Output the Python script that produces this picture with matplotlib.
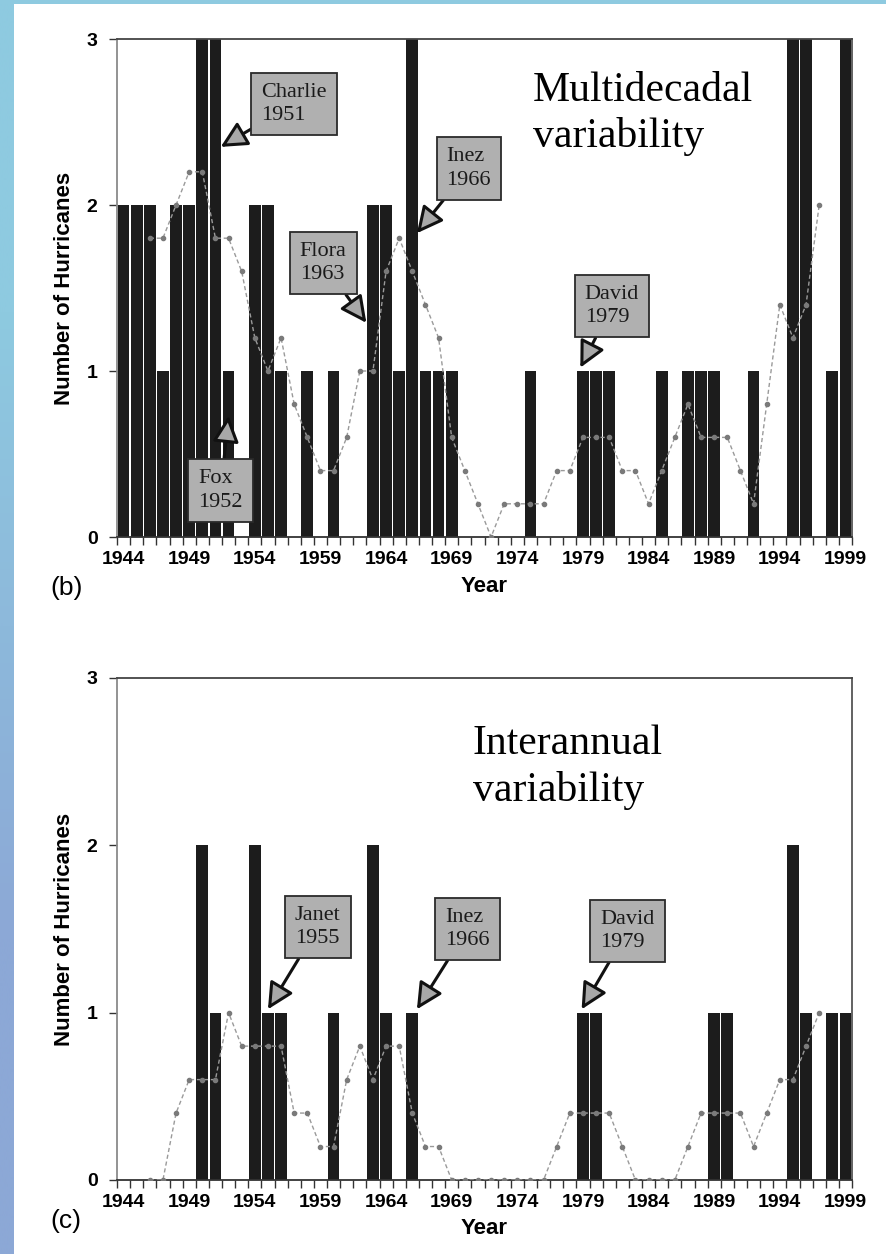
import numpy as np
import matplotlib
matplotlib.use("Agg")
import matplotlib.pyplot as plt
from matplotlib.patches import Rectangle

# roky a hodnoty odčítané z obrázka
years = list(range(1944, 2000))
label_years = list(range(1944, 2000, 5))
mean_years = list(range(1946, 1998))

# (b) multidekadálna variabilita
multi_counts = [2, 2, 2, 1, 2, 2, 3, 3, 1, 0,
                2, 2, 1, 0, 1, 0, 1, 0, 0, 2,
                2, 1, 3, 1, 1, 1, 0, 0, 0, 0,
                0, 1, 0, 0, 0, 1, 1, 1, 0, 0,
                0, 1, 0, 1, 1, 1, 0, 0, 1, 0,
                0, 3, 3, 0, 1, 3]
multi_mean = [1.8, 1.8, 2.0, 2.2, 2.2, 1.8, 1.8, 1.6, 1.2, 1.0,
              1.2, 0.8, 0.6, 0.4, 0.4, 0.6, 1.0, 1.0, 1.6, 1.8,
              1.6, 1.4, 1.2, 0.6, 0.4, 0.2, 0.0, 0.2, 0.2, 0.2,
              0.2, 0.4, 0.4, 0.6, 0.6, 0.6, 0.4, 0.4, 0.2, 0.4,
              0.6, 0.8, 0.6, 0.6, 0.6, 0.4, 0.2, 0.8, 1.4, 1.2,
              1.4, 2.0]

# (c) medziročná variabilita
inter_counts = [0, 0, 0, 0, 0, 0, 2, 1, 0, 0,
                2, 1, 1, 0, 0, 0, 1, 0, 0, 2,
                1, 0, 1, 0, 0, 0, 0, 0, 0, 0,
                0, 0, 0, 0, 0, 1, 1, 0, 0, 0,
                0, 0, 0, 0, 0, 1, 1, 0, 0, 0,
                0, 2, 1, 0, 1, 1]
inter_mean = [0.0, 0.0, 0.4, 0.6, 0.6, 0.6, 1.0, 0.8, 0.8, 0.8,
              0.8, 0.4, 0.4, 0.2, 0.2, 0.6, 0.8, 0.6, 0.8, 0.8,
              0.4, 0.2, 0.2, 0.0, 0.0, 0.0, 0.0, 0.0, 0.0, 0.0,
              0.0, 0.2, 0.4, 0.4, 0.4, 0.4, 0.2, 0.0, 0.0, 0.0,
              0.0, 0.2, 0.4, 0.4, 0.4, 0.4, 0.2, 0.4, 0.6, 0.6,
              0.8, 1.0]

# hurikány s popisom: text, cieľ šípky (x, y), stred rámčeka (x, y)
multi_names = ["Charlie\n1951", "Fox\n1952", "Flora\n1963", "Inez\n1966", "David\n1979"]
multi_tip_x = [1951.4, 1952.0, 1962.5, 1966.35, 1978.8]
multi_tip_y = [2.35, 0.73, 1.29, 1.83, 1.02]
multi_box_x = [1957.0, 1951.4, 1959.2, 1970.3, 1981.2]
multi_box_y = [2.61, 0.28, 1.65, 2.22, 1.39]

inter_names = ["Janet\n1955", "Inez\n1966", "David\n1979"]
inter_tip_x = [1955.0, 1966.35, 1978.9]
inter_tip_y = [1.02, 1.02, 1.02]
inter_box_x = [1958.8, 1970.2, 1982.4]
inter_box_y = [1.51, 1.50, 1.49]

W, H = 886, 1254
fig = plt.figure(figsize=(W / 100, H / 100), dpi=100)
fig.patch.set_facecolor("white")

# modrý okraj snímky
ax_bg = fig.add_axes([0, 0, 14 / W, 1])
grad = np.array([[[142, 202, 224]], [[140, 168, 214]]]) / 255.0
ax_bg.imshow(grad, aspect="auto", interpolation="bilinear", extent=(0, 1, 0, 1))
ax_bg.set_axis_off()
fig.patches.append(Rectangle((0, 1 - 4 / H), 1, 4 / H, transform=fig.transFigure,
                             facecolor="#8ecae0", edgecolor="none"))

tick_font = {"family": "Liberation Sans", "weight": "bold", "size": 14}


def px_axes(left, top, right, bottom):
    return fig.add_axes([left / W, 1 - bottom / H, (right - left) / W, (bottom - top) / H])


def draw_panel(ax, counts, mean_vals, names, tip_x, tip_y, box_x, box_y):
    ax.bar(years, counts, width=0.9, color="#1c1c1c", zorder=2)
    ax.plot(mean_years, mean_vals, color="#9a9a9a", lw=1, ls=(0, (3, 2)),
            marker="o", ms=3, mfc="#7a7a7a", mec="#7a7a7a", zorder=3)
    ax.set_xlim(1943.5, 1999.5)
    ax.set_ylim(0, 3)

    ax.set_yticks([0, 1, 2, 3])
    ax.set_yticklabels(["0", "1", "2", "3"], fontdict=tick_font)
    ax.set_xticks(label_years)
    ax.set_xticklabels([str(y) for y in label_years], fontdict=tick_font)
    ax.set_xticks(np.arange(1943.5, 2000, 1), minor=True)
    ax.tick_params(axis="x", which="major", length=0, pad=10)
    ax.tick_params(axis="x", which="minor", length=6, width=1, color="#333333", direction="out")
    ax.tick_params(axis="y", which="major", length=6, width=1, color="#333333", direction="out", pad=8)

    for side, col in [("left", "#8a8a8a"), ("top", "#444444"), ("bottom", "#333333"), ("right", "#555555")]:
        ax.spines[side].set_color(col)
        ax.spines[side].set_linewidth(1.3)

    for label, tx, ty, bx, by in zip(names, tip_x, tip_y, box_x, box_y):
        ax.annotate(label, xy=(tx, ty), xytext=(bx, by), ha="center", va="center",
                    multialignment="left", linespacing=1.3, fontsize=16,
                    family="Liberation Serif", color="#1a1a1a",
                    bbox=dict(boxstyle="square,pad=0.45", fc="#b0b0b0", ec="#2a2a2a", lw=1.3),
                    arrowprops=dict(arrowstyle="-|>,head_length=1.0,head_width=0.5", mutation_scale=16,
                                    fc="#a8a8a8", ec="#111111", lw=2.2, shrinkA=0, shrinkB=0),
                    zorder=5)


ax_b = px_axes(117, 39, 852, 537)
draw_panel(ax_b, multi_counts, multi_mean, multi_names, multi_tip_x, multi_tip_y, multi_box_x, multi_box_y)
ax_b.text(1975.2, 2.805, "Multidecadal\nvariability", family="Liberation Serif", fontsize=30,
          ha="left", va="top", linespacing=1.25, zorder=6)

ax_c = px_axes(117, 678, 852, 1180)
draw_panel(ax_c, inter_counts, inter_mean, inter_names, inter_tip_x, inter_tip_y, inter_box_x, inter_box_y)
ax_c.text(1970.6, 2.72, "Interannual\nvariability", family="Liberation Serif", fontsize=30,
          ha="left", va="top", linespacing=1.25, zorder=6)

# popisy osí a panelov
for yc, ylab_y in [(288, 587), (929, 1228)]:
    fig.text(65 / W, 1 - yc / H, "Number of Hurricanes", rotation=90, ha="center", va="center",
             family="Liberation Sans", weight="bold", fontsize=16)
    fig.text(484 / W, 1 - ylab_y / H, "Year", ha="center", va="center",
             family="Liberation Sans", weight="bold", fontsize=16)
fig.text(67 / W, 1 - 588 / H, "(b)", ha="center", va="center", family="Liberation Sans", fontsize=19)
fig.text(66 / W, 1 - 1221 / H, "(c)", ha="center", va="center", family="Liberation Sans", fontsize=19)

fig.savefig("out.png", dpi=100)
